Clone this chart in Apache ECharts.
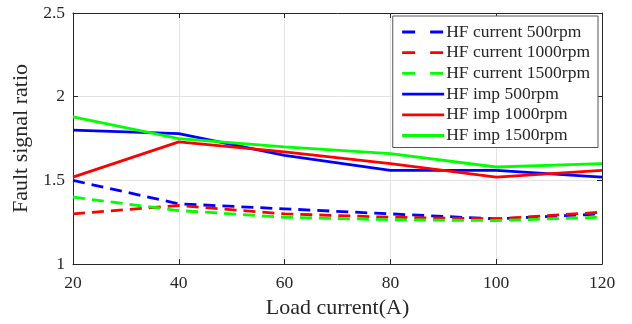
<!DOCTYPE html>
<html>
<head>
<meta charset="utf-8">
<script src="https://cdn.jsdelivr.net/npm/echarts@6/dist/echarts.min.js"></script>
<style>html,body{margin:0;padding:0;background:#fff}#c{width:632px;height:324px}</style>
</head>
<body>
<div id="c"></div>
<script>
var loadCurrent = [20, 40, 60, 80, 100, 120];
var hfCurrent500 = [1.50, 1.36, 1.33, 1.30, 1.27, 1.30];
var hfCurrent1000 = [1.30, 1.35, 1.30, 1.28, 1.27, 1.31];
var hfCurrent1500 = [1.40, 1.32, 1.28, 1.265, 1.26, 1.28];
var hfImp500 = [1.80, 1.78, 1.65, 1.56, 1.56, 1.52];
var hfImp1000 = [1.52, 1.73, 1.67, 1.60, 1.52, 1.56];
var hfImp1500 = [1.88, 1.75, 1.70, 1.66, 1.58, 1.60];

var seriesNames = ['HF current 500rpm','HF current 1000rpm','HF current 1500rpm','HF imp 500rpm','HF imp 1000rpm','HF imp 1500rpm'];
var seriesData = [hfCurrent500, hfCurrent1000, hfCurrent1500, hfImp500, hfImp1000, hfImp1500];
var colors = ['#0000ff','#ff0000','#00ff00','#0000ff','#ff0000','#00ff00'];
var dashed = [true, true, true, false, false, false];

function pairs(arr){ return loadCurrent.map(function(x,i){ return [x, arr[i]]; }); }

var font = 'Liberation Serif, Times New Roman, serif';
var txt = '#262626';

var series = seriesNames.map(function(n,i){
  return {
    name: n, type: 'line', data: pairs(seriesData[i]),
    symbol: 'none', showSymbol: false, smooth: false,
    z: dashed[i] ? 2 : 3,
    lineStyle: { color: colors[i], width: 2.8, type: dashed[i] ? [12,7] : 'solid' },
    itemStyle: { color: colors[i] }
  };
});

var chart = echarts.init(document.getElementById('c'), null, {renderer:'canvas'});
chart.setOption({
  animation: false,
  backgroundColor: '#fff',
  grid: { left: 73, right: 30, top: 13, bottom: 59, containLabel: false },
  legend: {
    orient: 'vertical', right: 34, top: 16,
    data: seriesNames.map(function(n,i){
      return { name: n, itemStyle: { opacity: 0 },
        lineStyle: { width: 2.8, type: dashed[i] ? [13,15] : 'solid', color: colors[i] } };
    }),
    itemWidth: 42, itemHeight: 10, itemGap: 0.7,
    padding: [6, 8, 2, 8],
    backgroundColor: '#fff',
    borderColor: '#555', borderWidth: 1, borderRadius: 0,
    textStyle: { fontFamily: font, fontSize: 17.5, color: txt, lineHeight: 20, padding: [0,0,0,-3] }
  },
  xAxis: [{
    type: 'value', min: 20, max: 120, interval: 20,
    name: 'Load current(A)', nameLocation: 'middle', nameGap: 32,
    nameTextStyle: { fontFamily: font, fontSize: 22, color: txt },
    axisLine: { show: true, lineStyle: { color: txt, width: 1 } },
    axisTick: { show: true, inside: true, length: 5, lineStyle: { color: txt } },
    axisLabel: { fontFamily: font, fontSize: 17.5, color: txt, margin: 10 },
    splitLine: { show: true, lineStyle: { color: '#e3e3e3', width: 1 } }
  },{
    type: 'value', min: 20, max: 120, interval: 20, position: 'top',
    axisLine: { show: true, lineStyle: { color: txt, width: 1 } },
    axisTick: { show: true, inside: true, length: 5, lineStyle: { color: txt } },
    axisLabel: { show: false }, splitLine: { show: false }
  }],
  yAxis: [{
    type: 'value', min: 1, max: 2.5, interval: 0.5,
    name: 'Fault signal ratio', nameLocation: 'middle', nameGap: 36,
    nameTextStyle: { fontFamily: font, fontSize: 22, color: txt },
    axisLine: { show: true, lineStyle: { color: txt, width: 1 } },
    axisTick: { show: true, inside: true, length: 5, lineStyle: { color: txt } },
    axisLabel: { fontFamily: font, fontSize: 17.5, color: txt, margin: 8 },
    splitLine: { show: true, lineStyle: { color: '#e3e3e3', width: 1 } }
  },{
    type: 'value', min: 1, max: 2.5, interval: 0.5, position: 'right',
    axisLine: { show: true, lineStyle: { color: txt, width: 1 } },
    axisTick: { show: true, inside: true, length: 5, lineStyle: { color: txt } },
    axisLabel: { show: false }, splitLine: { show: false }
  }],
  series: series
});
</script>
</body>
</html>
